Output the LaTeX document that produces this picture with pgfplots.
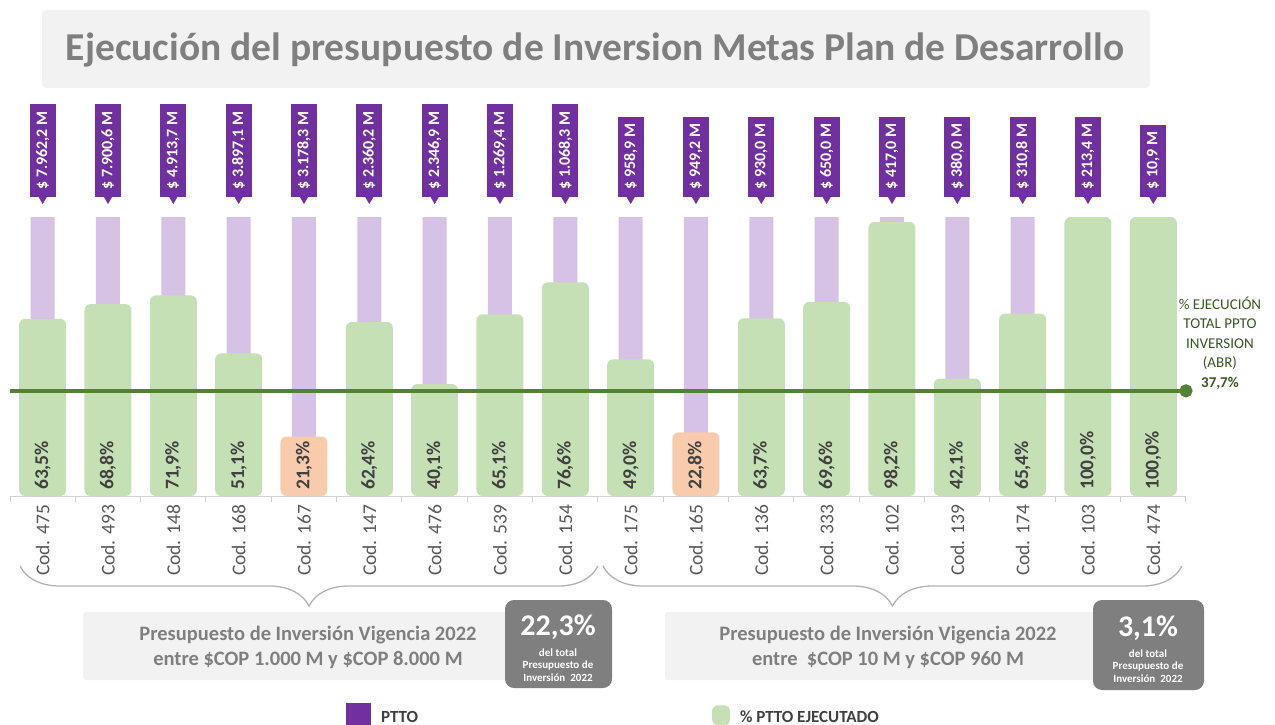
\documentclass[border=0pt]{standalone}
\usepackage{pgfplots}
\pgfplotsset{compat=1.18}
\usepackage{pgfplotstable}
\usepackage{fontspec}
\setmainfont{Carlito}
\usetikzlibrary{decorations.pathreplacing}

\definecolor{ppurple}{HTML}{7030A0}
\definecolor{plav}{HTML}{D5C2E4}
\definecolor{pgreen}{HTML}{C5E0B4}
\definecolor{porange}{HTML}{F8CBAD}
\definecolor{dgreen}{HTML}{548235}
\definecolor{tgreen}{HTML}{385723}
\definecolor{tgray}{HTML}{7F7F7F}
\definecolor{dgray}{HTML}{404040}
\definecolor{lblgray}{HTML}{595959}
\definecolor{lgray}{HTML}{F2F2F2}

% idx, presupuesto (M COP), % ejecutado
\pgfplotstableread{
idx ppto pct
0 7962.2 63.5
1 7900.6 68.8
2 4913.7 71.9
3 3897.1 51.1
4 3178.3 21.3
5 2360.2 62.4
6 2346.9 40.1
7 1269.4 65.1
8 1068.3 76.6
9 958.9 49.0
10 949.2 22.8
11 930.0 63.7
12 650.0 69.6
13 417.0 98.2
14 380.0 42.1
15 310.8 65.4
16 213.4 100.0
17 10.9 100.0
}\datatable

\begin{document}
\begin{tikzpicture}[x=1pt,y=1pt]

% title
\fill[lgray, rounded corners=4pt] (42,-10) rectangle (1150,-88);
\node[font=\fontsize{39.5}{44}\selectfont\bfseries, text=tgray] at (595,-50) {Ejecución del presupuesto de Inversion Metas Plan de Desarrollo};

\begin{axis}[
  at={(10pt,-496pt)}, anchor=south west,
  scale only axis, width=1176pt, height=279pt,
  xmin=-0.5, xmax=17.5, ymin=0, ymax=100,
  clip=false,
  axis x line*=bottom, axis y line=none,
  x axis line style={draw=gray!35, line width=1pt},
  xtick={0,...,17},
  xticklabels={Cod. 475,Cod. 493,Cod. 148,Cod. 168,Cod. 167,Cod. 147,Cod. 476,Cod. 539,Cod. 154,Cod. 175,Cod. 165,Cod. 136,Cod. 333,Cod. 102,Cod. 139,Cod. 174,Cod. 103,Cod. 474},
  major tick length=0pt,
  minor xtick={-0.5,0.5,...,17.5},
  minor tick length=6pt,
  xtick align=outside,
  every minor tick/.style={draw=gray!35, line width=1pt},
  x tick label style={yshift=-5pt, rotate=90, anchor=east, font=\fontsize{19.5}{22}\selectfont, text=lblgray},
  ytick=\empty,
  legend columns=2,
  legend style={at={(0.283,-0.735)}, anchor=north west, draw=none, fill=none,
    font=\fontsize{17}{20}\selectfont\bfseries, text=dgray,
    /tikz/every odd column/.append style={column sep=8pt},
    /tikz/every even column/.append style={column sep=292pt}},
]

\addplot[ybar, bar width=24pt, bar shift=0pt, fill=plav, draw=none,
  legend image code/.code={\fill[ppurple] (0pt,-8pt) rectangle (25pt,14pt);}]
  table[x=idx, y expr=100] {\datatable};
\addlegendentry{PTTO}

\addplot[ybar, bar width=47pt, bar shift=0pt, fill=pgreen, draw=none, rounded corners=6pt,
  x filter/.expression={x==4 ? nan : (x==10 ? nan : x)},
  legend image code/.code={\fill[pgreen] (0pt,-8pt) rectangle (18pt,12pt);}]
  table[x=idx, y=pct] {\datatable};
\addlegendentry{\% PTTO EJECUTADO}

\addplot[ybar, bar width=47pt, bar shift=0pt, fill=porange, draw=none, rounded corners=6pt, forget plot,
  x filter/.expression={x==4 ? x : (x==10 ? x : nan)}]
  table[x=idx, y=pct] {\datatable};

% value labels
\addplot[draw=none, mark=none, forget plot, point meta=\thisrow{pct},
  nodes near coords={\pgfmathprintnumber[fixed, fixed zerofill, precision=1, use comma, assume math mode=true]{\pgfplotspointmeta}\%},
  every node near coord/.append style={rotate=90, anchor=west, inner xsep=6pt,
    font=\fontsize{19.5}{22}\selectfont\bfseries, text=dgray}]
  table[x=idx, y expr=0] {\datatable};

% average line
\addplot[dgreen, line width=4pt, mark=*, mark indices={2}, mark size=4.5pt, forget plot]
  coordinates {(-0.5,37.7) (17.5,37.7)};

% callout pointers
\addplot[only marks, mark=triangle*, mark size=5pt, forget plot,
  mark options={rotate=180, fill=ppurple, draw=ppurple}]
  table[x=idx, y expr=106.6] {\datatable};

% callouts
\addplot[draw=none, mark=none, forget plot, point meta=\thisrow{ppto},
  nodes near coords={\$ \pgfmathprintnumber[fixed, fixed zerofill, precision=1, use comma, assume math mode=true]{\pgfplotspointmeta} M},
  every node near coord/.append style={rotate=90, anchor=west, fill=ppurple, text=white,
    inner xsep=7pt, inner ysep=0pt, minimum height=26pt,
    font=\fontsize{16}{18}\selectfont\bfseries}]
  table[x=idx, y expr=107.2] {\datatable};

\node[align=center, anchor=south, text=tgreen, font=\fontsize{15}{19.5}\selectfont]
  at (axis cs:18.02,37.0) {\% EJECUCIÓN\\TOTAL PPTO\\INVERSION\\(ABR)\\\textbf{37,7\%}};
\end{axis}

% braces
\draw[decorate, decoration={brace, mirror, amplitude=40pt}, draw=gray!60, line width=1.3pt]
  (20,-566) -- (598,-566);
\draw[decorate, decoration={brace, mirror, amplitude=40pt}, draw=gray!60, line width=1.3pt]
  (603,-566) -- (1182,-566);

% group boxes
\fill[lgray, rounded corners=3pt] (83,-612) rectangle (512,-680);
\node[align=center, text=tgray, font=\fontsize{20.5}{25}\selectfont\bfseries] at (308,-647)
  {Presupuesto de Inversión Vigencia 2022\\entre \$COP 1.000 M y \$COP 8.000 M};
\fill[tgray, rounded corners=9pt] (505,-600) rectangle (612,-688);
\node[text=white, font=\fontsize{30}{32}\selectfont\bfseries] at (558,-627) {22,3\%};
\node[align=center, text=white, font=\fontsize{11}{12.5}\selectfont\bfseries] at (558,-665)
  {del total\\Presupuesto de\\Inversión\ \ 2022};

\fill[lgray, rounded corners=3pt] (665,-612) rectangle (1100,-680);
\node[align=center, text=tgray, font=\fontsize{20.5}{25}\selectfont\bfseries] at (888,-647)
  {Presupuesto de Inversión Vigencia 2022\\entre\ \ \$COP 10 M y \$COP 960 M};
\fill[tgray, rounded corners=9pt] (1093,-600) rectangle (1204,-690);
\node[text=white, font=\fontsize{30}{32}\selectfont\bfseries] at (1148,-628) {3,1\%};
\node[align=center, text=white, font=\fontsize{11}{12.5}\selectfont\bfseries] at (1148,-666)
  {del total\\Presupuesto de\\Inversión\ \ 2022};

\pgfresetboundingbox
\path[use as bounding box] (0,0) rectangle (1275,-725);
\end{tikzpicture}
\end{document}
